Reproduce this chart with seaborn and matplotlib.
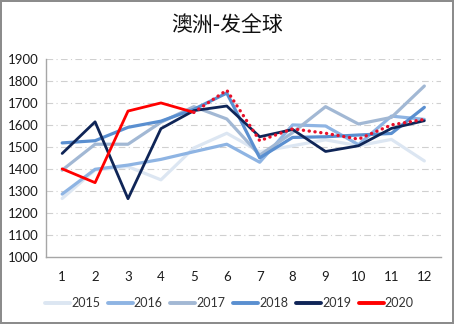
import matplotlib
matplotlib.use("Agg")
import matplotlib.pyplot as plt
import seaborn as sns
import pandas as pd

months = list(range(1, 13))
y2015 = [1265, 1395, 1410, 1350, 1495, 1562, 1478, 1505, 1532, 1505, 1534, 1436]
y2016 = [1285, 1398, 1417, 1443, 1478, 1512, 1430, 1600, 1595, 1510, 1640, 1625]
y2017 = [1394, 1512, 1512, 1612, 1683, 1627, 1462, 1565, 1683, 1604, 1634, 1777]
y2018 = [1518, 1528, 1589, 1617, 1671, 1745, 1450, 1543, 1546, 1554, 1561, 1680]
y2019 = [1470, 1614, 1264, 1583, 1665, 1686, 1546, 1579, 1479, 1505, 1584, 1619]
y2020 = [1400, 1337, 1663, 1700, 1657]
# months 5-12 of the dotted 2020 outlook line
months_2020_outlook = list(range(5, 13))
y2020_outlook = [1657, 1758, 1528, 1582, 1562, 1535, 1600, 1625]

years = ["2015", "2016", "2017", "2018", "2019", "2020"]
series = [y2015, y2016, y2017, y2018, y2019, y2020]
colors = ["#dce6f2", "#8eb4e3", "#a2b8d4", "#5a8fd0", "#0f2557", "#ff0000"]
widths = [2.3, 2.3, 2.3, 2.3, 2.0, 2.0]

rows = []
for yr, vals in zip(years, series):
    for m, v in zip(months, vals):
        rows.append({"month": m, "value": v, "year": yr})
df = pd.DataFrame(rows)
outlook = pd.DataFrame({"month": months_2020_outlook, "value": y2020_outlook})

sns.set_theme(style="white")
plt.rcParams["font.family"] = ["Lato", "DejaVu Sans"]

fig = plt.figure(figsize=(4.54, 3.24), dpi=100)
fig.patch.set_facecolor("white")
fig.patch.set_edgecolor("#8c8c8c")
fig.patch.set_linewidth(1.5)
ax = fig.add_axes([45.7 / 454, 1 - 256.7 / 324, (440.8 - 45.7) / 454, (256.7 - 59) / 324])

for yr, c, lw in zip(years, colors, widths):
    sub = df[df["year"] == yr]
    sns.lineplot(data=sub, x="month", y="value", color=c, linewidth=lw,
                 ax=ax, label=yr, zorder=3 if yr in ("2019", "2020") else 2)

sns.lineplot(data=outlook, x="month", y="value", color="#e8102a", linewidth=2.4,
             linestyle=(0, (0.05, 1.7)), dash_capstyle="round", ax=ax, zorder=4,
             legend=False)

ax.set_xlim(0.5, 12.5)
ax.set_ylim(1000, 1900)
ax.set_xticks(months)
ax.set_yticks(range(1000, 2000, 100))
ax.tick_params(axis="both", labelsize=9.5, colors="#1a1a1a", length=0, pad=5)
ax.tick_params(axis="x", pad=10)
ax.set_xlabel("")
ax.set_ylabel("")
for y in range(1100, 2000, 100):
    ax.axhline(y, color="#d0d0d0", linewidth=0.8, linestyle=(0, (6, 3, 1, 3)), zorder=1)
for side in ("top", "right"):
    ax.spines[side].set_visible(False)
for side in ("left", "bottom"):
    ax.spines[side].set_color("#a6a6a6")
    ax.spines[side].set_linewidth(1.0)

fig.text(0.5, 1 - 25 / 324, "澳洲-发全球", ha="center", va="center", fontsize=15,
         family=["Noto Sans CJK SC", "DejaVu Sans"], color="#111111")

handles, labels = ax.get_legend_handles_labels()
ax.get_legend().remove()
leg = fig.legend(handles, labels, loc="center", bbox_to_anchor=(0.505, 1 - 303 / 324),
                 ncol=6, frameon=False, fontsize=9, handlelength=2.0,
                 handletextpad=0.1, columnspacing=0.6)
for line in leg.get_lines():
    line.set_linewidth(2.8)
for t in leg.get_texts():
    t.set_color("#333333")

fig.savefig("out.png", dpi=100, facecolor=fig.get_facecolor(), edgecolor=fig.get_edgecolor())
